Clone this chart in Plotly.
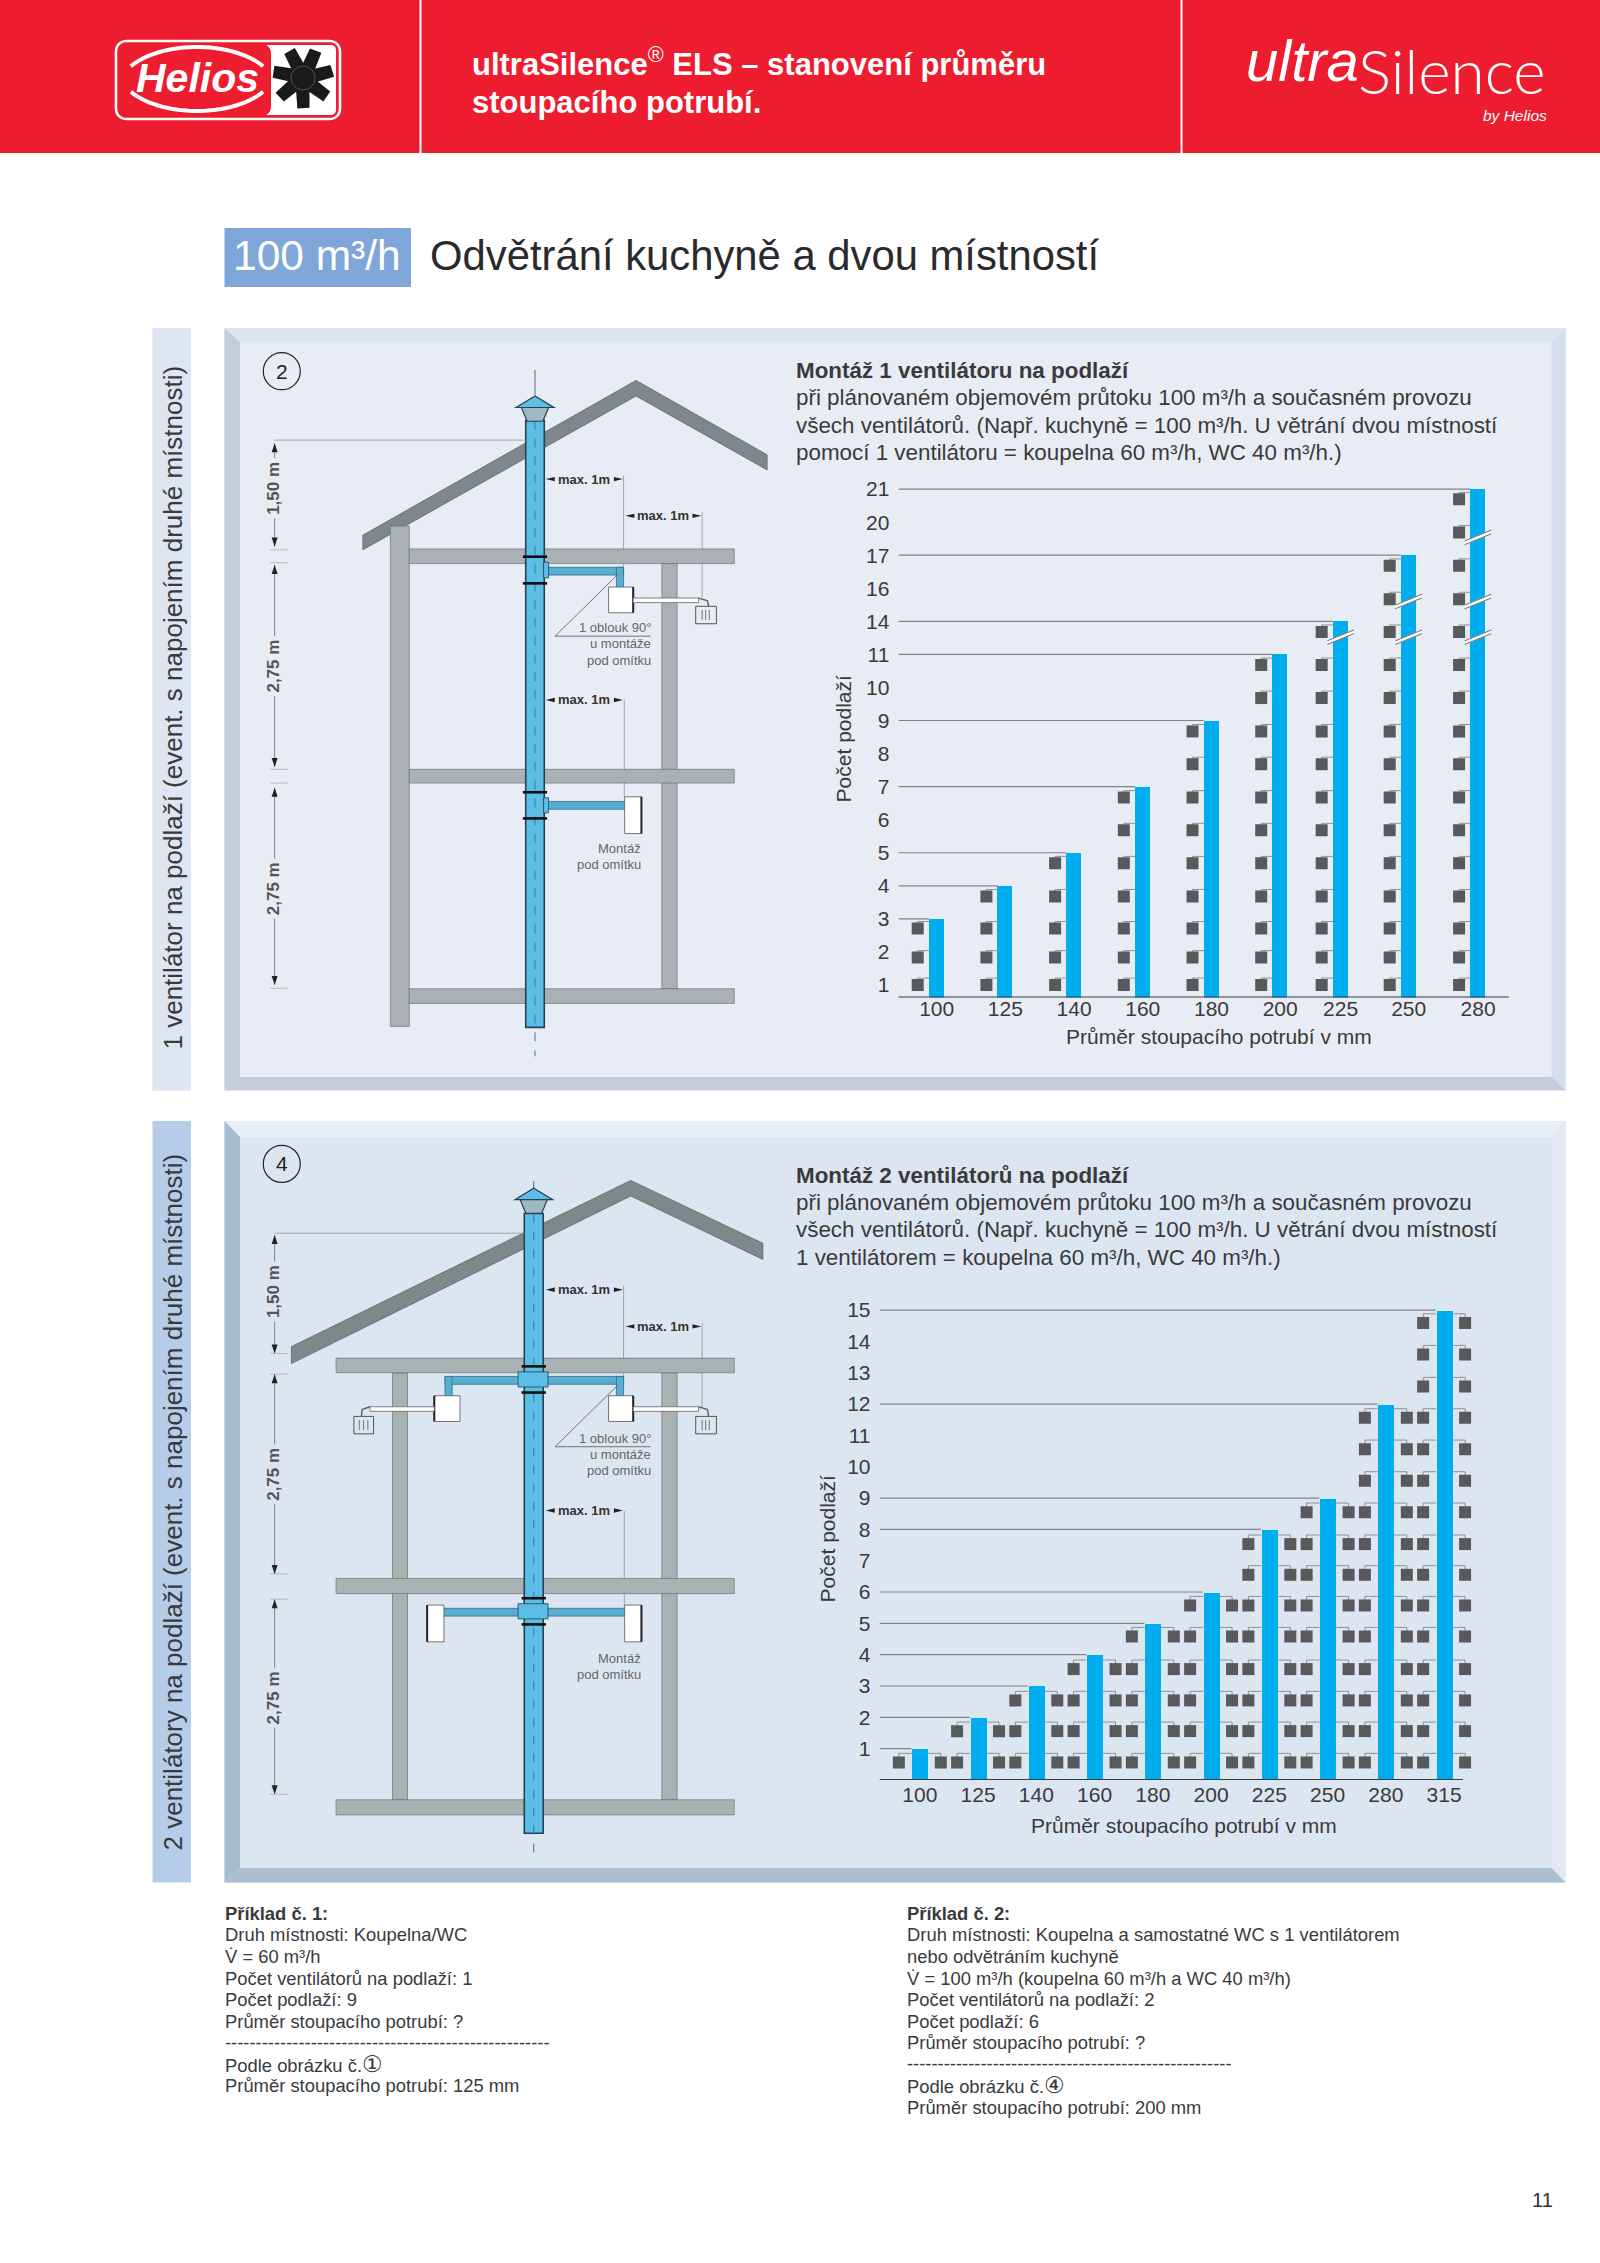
import numpy as np
import plotly.graph_objects as go

W, H = 1600, 2263

# ---------- chart data ----------
diam1 = ["100", "125", "140", "160", "180", "200", "225", "250", "280"]
diam1_pos = [0, 1, 2, 3, 4, 5, 5.88, 6.87, 7.88]
ylabels1 = ["1", "2", "3", "4", "5", "6", "7", "8", "9", "10", "11", "14", "16", "17", "20", "21"]
floors1 = [3, 4, 5, 7, 9, 11, 14, 17, 21]
rows1 = [1.0, 1.83, 2.71, 3.68, 4.68, 5.68, 6.67, 7.68, 8.67, 9.68, 10.68, 11.68, 12.67, 13.68, 14.69, 15.69]
breaks1 = {"225": [11.52], "250": [11.52, 12.6], "280": [11.52, 12.6, 14.54]}

diam2 = ["100", "125", "140", "160", "180", "200", "225", "250", "280", "315"]
ylabels2 = ["1", "2", "3", "4", "5", "6", "7", "8", "9", "10", "11", "12", "13", "14", "15"]
floors2 = [1, 2, 3, 4, 5, 6, 8, 9, 12, 15]
rows2 = [0.56, 1.56, 2.54, 3.54, 4.58, 5.57, 6.55, 7.53, 8.55, 9.55, 10.56, 11.56, 12.56, 13.58, 14.59]

XTITLE = "Průměr stoupacího potrubí v mm"
YTITLE = "Počet podlaží"

FONT = "Liberation Sans"
BLUE = "#00aeef"
SQ = "#58595b"
LEAD = "#808285"
TXT = "#3a3a3c"

shapes, annots = [], []


def px(x):
    return x / W


def py(y):
    return 1 - y / H


def rect(x0, y0, x1, y1, fill, line=None, lw=1, dash=None):
    shapes.append(dict(type="rect", xref="paper", yref="paper", layer="below",
                       x0=px(x0), x1=px(x1), y0=py(y0), y1=py(y1), fillcolor=fill,
                       line=dict(color=line or "rgba(0,0,0,0)", width=lw if line else 0, dash=dash)))


def poly(pts, fill, line=None, lw=1, close=True):
    d = "M " + " L ".join(f"{px(a):.5f} {py(b):.5f}" for a, b in pts) + (" Z" if close else "")
    shapes.append(dict(type="path", xref="paper", yref="paper", layer="below", path=d,
                       fillcolor=fill if close else "rgba(0,0,0,0)",
                       line=dict(color=line or "rgba(0,0,0,0)", width=lw if line else 0)))


def rrect(x0, y0, x1, y1, r, fill, line=None, lw=1):
    pts = []
    for cx, cy, a0 in ((x1 - r, y0 + r, -90), (x1 - r, y1 - r, 0), (x0 + r, y1 - r, 90), (x0 + r, y0 + r, 180)):
        for a in np.radians(np.linspace(a0, a0 + 90, 7)):
            pts.append((cx + r * np.cos(a), cy + r * np.sin(a)))
    poly(pts, fill, line, lw)


def seg(x0, y0, x1, y1, color, lw=1, dash=None):
    shapes.append(dict(type="line", xref="paper", yref="paper", layer="below",
                       x0=px(x0), x1=px(x1), y0=py(y0), y1=py(y1),
                       line=dict(color=color, width=lw, dash=dash)))


def ell(cx, cy, rx, ry, fill, line=None, lw=1):
    shapes.append(dict(type="circle", xref="paper", yref="paper", layer="below",
                       x0=px(cx - rx), x1=px(cx + rx), y0=py(cy - ry), y1=py(cy + ry),
                       fillcolor=fill, line=dict(color=line or "rgba(0,0,0,0)", width=lw if line else 0)))


def text(x, y, s, size, color=TXT, anchor="left", rot=0, family=FONT):
    if rot == 0:
        x = x - 2 if anchor == "left" else (x + 2 if anchor == "right" else x)
    annots.append(dict(x=px(x), y=py(y), xref="paper", yref="paper", text=s, showarrow=False,
                       xanchor=anchor, yanchor="middle", textangle=rot,
                       font=dict(size=size, color=color, family=family)))


# ---------- header ----------
RED = "#ed1c2e"
rect(-5, -10, W + 5, 153, RED)
seg(420.5, -10, 420.5, 153, "white", 2)
seg(1181.5, -10, 1181.5, 153, "white", 2)

# Helios logo
rrect(116, 41, 340, 119, 10, RED, "white", 2.5)
rrect(260, 45, 336, 115, 5, "white")
rrect(120, 44, 271, 116, 9, RED)
t = np.radians(np.linspace(32, 148, 30))
poly([(197 + 78 * np.cos(a), 88 - 41 * np.sin(a)) for a in t], None, "white", 4, close=False)
t = np.radians(np.linspace(212, 328, 30))
poly([(197 + 78 * np.cos(a), 70 - 41 * np.sin(a)) for a in t], None, "white", 4, close=False)
text(197, 78, "<b><i>Helios</i></b>", 41, "white", "center")
for k in range(7):
    a = np.radians(-8 + k * 360 / 7)
    c, s_ = np.cos(a), np.sin(a)
    blade = [(6, -7), (29, -9), (31, 3), (6, 7)]
    poly([(303 + u * c - v * s_, 78 + u * s_ + v * c) for u, v in blade], "#1a1a1a")
ell(303, 78, 12, 12, "#1a1a1a", "#777", 0.6)

# header text
text(472, 62, "<b>ultraSilence</b><sup>®</sup><b> ELS – stanovení průměru</b>", 31, "white")
text(472, 102, "<b>stoupacího potrubí.</b>", 31, "white")
text(1246, 60, "<i>ultra</i>", 58, "white")
text(1358, 70, "Silence", 62, "white", family="Lato Light, Lato")
text(1547, 115, "<i>by Helios</i>", 15.5, "white", "right")

# title
rect(224.5, 228, 411, 287, "#7fa6d9")
text(233, 255, "100 m³/h", 42.5, "white", family="Liberation Sans")
text(430, 255, "Odvětrání kuchyně a dvou místností", 41.8, "#2a2a2c")


# ---------- panels ----------
def panel(y0, y1, yt, yb, face, top, left, right, bottom, tab, tab_txt, ty):
    rect(152.5, y0, 191, y1, tab)
    text(172.5, ty, tab_txt, 26, "#3a3a3c", "center", -90)
    xl, xr, xil, xir = 224.5, 1565.5, 240, 1551.5
    rect(xl, y0, xr, y1, face)
    poly([(xl, y0), (xr, y0), (xir, yt), (xil, yt)], top)
    poly([(xl, y0), (xil, yt), (xil, yb), (xl, y1)], left)
    poly([(xr, y0), (xir, yt), (xir, yb), (xr, y1)], right)
    poly([(xl, y1), (xil, yb), (xir, yb), (xr, y1)], bottom)


panel(328, 1090.5, 342, 1077, "#e8edf5", "#dde6ee", "#c3cedb", "#d5deea", "#c5ccd9", "#dde6f1",
      "1 ventilátor na podlaží (event. s napojením druhé místnosti)", 708)
panel(1121, 1882.5, 1137, 1868, "#dce6f1", "#e6eef7", "#a6bcd0", "#e3e9f4", "#aebfd2", "#b6cde9",
      "2 ventilátory na podlaží (event. s napojením druhé místnosti)", 1502)


# ---------- house diagrams ----------
def house(oy, two):
    z = lambda x, y: (220 + x / 2.8, oy + y / 2.178)
    d = 23 if two else 0
    EDGE = "#5f6668"
    WALL = "#a9b1b3"

    def zr(x0, y0, x1, y1, fill, line=None, lw=1):
        a, b = z(x0, y0), z(x1, y1)
        rect(a[0], a[1], b[0], b[1], fill, line, lw)

    def zl(x0, y0, x1, y1, color, lw=1, dash=None):
        a, b = z(x0, y0), z(x1, y1)
        seg(a[0], a[1], b[0], b[1], color, lw, dash)

    # thin leader lines
    GR = "#8d9499"
    zl(1130, 295 + d, 1130, 495 + d, GR, .8)
    zl(1350, 375 + d, 1350, 560 + d, GR, .8)
    zl(1132, 785 + d, 1132, 995 + d, GR, .8)

    # roof + structure
    if two:
        poly([z(*p) for p in [(200, 450), (1150, 88), (1520, 225), (1520, 260), (1150, 122), (200, 487)]], "#7e888b", EDGE, .8)
        beams = [(475, 507), (955, 988), (1437, 1470)]
        bx0 = 325
        for wx0, wx1 in [(483, 525), (1237, 1280)]:
            zr(wx0, 507, wx1, 1437, WALL, EDGE, .6)
    else:
        poly([z(*p) for p in [(400, 425), (1165, 88), (1532, 250), (1532, 283), (1165, 122), (400, 457)]], "#7e888b", EDGE, .8)
        beams = [(455, 487), (935, 965), (1413, 1445)]
        bx0 = 530
        zr(477, 405, 530, 1495, WALL, EDGE, .6)
        zr(1237, 487, 1280, 1413, WALL, EDGE, .6)
    for b0, b1 in beams:
        zr(bx0, b0, 1440, b1, WALL, EDGE, .6)

    # ducts
    DUCT = "#58aed0"
    pipe_x0, pipe_x1 = (852, 905) if two else (856, 908)
    ptop = 160 if two else 175
    pbot = 1510 if two else 1497
    yu = 515 if two else 495
    yl = 1020 if two else 1005
    zr(905, yu, 1130, yu + 17, DUCT, "#2f6f8d", .8)
    zr(1110, yu, 1130, yu + 45, DUCT, "#2f6f8d", .8)
    zr(905, yl, 1135, yl + 17, DUCT, "#2f6f8d", .8)
    if two:
        zr(630, yu, 852, yu + 17, DUCT, "#2f6f8d", .8)
        zr(630, yu, 650, yu + 45, DUCT, "#2f6f8d", .8)
        zr(625, yl, 852, yl + 17, DUCT, "#2f6f8d", .8)

    # fans and valves
    def fanbox(x0, x1, y0, y1, side):
        zr(x0, y0, x1, y1, "white", "#555", .8)
        a, b = z(x1 if side > 0 else x0, y0), z(x1 if side > 0 else x0, y1)
        seg(a[0], a[1], b[0], b[1], "#222", 2)

    by = 557 if two else 538
    fanbox(1088, 1157, by, by + 56, 1)
    ly0 = 1013 if two else 995
    fanbox(1133, 1180, ly0, ly0 + 80, 1)
    gy = 602 if two else 580
    zr(1157, by + 24, 1340, by + 34, "white", "#666", .8)
    poly([z(1340, by + 24), z(1365, by + 30), z(1368, gy)], None, "#666", 1.5, close=False)
    zr(1332, gy, 1390, gy + 38, "rgba(0,0,0,0)", "#555", 1)
    for vx in (1350, 1360, 1370):
        zl(vx, gy + 8, vx, gy + 30, "#777", 1)
    if two:
        fanbox(600, 672, by, by + 56, -1)
        fanbox(580, 627, ly0, ly0 + 80, -1)
        zr(420, by + 24, 600, by + 34, "white", "#666", .8)
        poly([z(420, by + 24), z(398, by + 30), z(396, gy)], None, "#666", 1.5, close=False)
        zr(375, gy, 430, gy + 38, "rgba(0,0,0,0)", "#555", 1)
        for vx in (390, 402, 414):
            zl(vx, gy + 8, vx, gy + 30, "#777", 1)

    # riser
    zr(pipe_x0, ptop, pipe_x1, pbot, "#5cbde6", "#24424f", 1.6)
    cx = (pipe_x0 + pipe_x1) / 2
    zl(cx, 65 if not two else 90, cx, 120, "#444", .8)
    zl(cx, ptop, cx, 1560, "#2f7fa5", 1, "dash")
    capy = 122 if not two else 105
    poly([z(cx - 53, capy + 25), z(cx, capy), z(cx + 53, capy + 25)], "#5cbde6", "#24424f", 1.2)
    poly([z(cx - 38, capy + 25), z(cx - 22, capy + 55), z(cx + 22, capy + 55), z(cx + 38, capy + 25)], "#9fb7c0", "#24424f", 1.2)
    colls = (493, 550, 998, 1055) if two else (472, 530, 985, 1042)
    for c in colls:
        zl(cx - 34, c, cx + 34, c, "#111", 2.6)
    for c0, c1 in ((colls[0], colls[1]), (colls[2], colls[3])):
        if two:
            zr(cx - 44, c0 + 12, cx + 40, c1 - 12, "#5cbde6", "#24424f", .8)
        else:
            zr(cx + 24, c0 + 12, cx + 38, c1 - 12, "#5cbde6", "#24424f", .8)

    # max. 1m labels
    def maxlab(x0, x1, y):
        a, b = z(x0, y), z(x1, y)
        text((a[0] + b[0]) / 2, a[1], "<b>max. 1m</b>", 13, "#333", "center")
        for xx, sgn in ((a[0], 1), (b[0], -1)):
            poly([(xx, a[1]), (xx + sgn * 9, a[1] - 2.2), (xx + sgn * 9, a[1] + 2.2)], "#222")

    maxlab(912, 1128, 303 + d)
    maxlab(1135, 1348, 383 + d)
    maxlab(912, 1128, 783 + d + 1)

    # notes
    for s, yy in (("1 oblouk 90°", 627), ("u montáže", 662), ("pod omítku", 697)):
        a = z(1206, yy + d)
        text(a[0], a[1], s, 13, "#666", "right")
    zl(938, 645 + d, 1206, 645 + d, "#555", .8)
    zl(938, 645 + d, 1115, 510 + d, "#555", .8)
    for s, yy in (("Montáž", 1108), ("pod omítku", 1143)):
        a = z(1179, yy + d - 1 if two else yy)
        text(a[0], a[1], s, 13, "#666", "right")

    # dimension line
    dm = [(207, 465), (510, 945), (1000, 1425)] if two else [(225, 450), (490, 930), (975, 1405)]
    labs = [("1,50 m", 330), ("2,75 m", 728), ("2,75 m", 1215)] if two else [("1,50 m", 323), ("2,75 m", 710), ("2,75 m", 1195)]
    for (y0, y1), (lab, ly) in zip(dm, labs):
        zl(153, y0, 153, y1, "#777", .9)
        a, b = z(153, y0), z(153, y1)
        poly([(a[0], a[1]), (a[0] - 3, a[1] + 9), (a[0] + 3, a[1] + 9)], "#222")
        poly([(b[0], b[1]), (b[0] - 3, b[1] - 9), (b[0] + 3, b[1] - 9)], "#222")
        a = z(150, ly)
        rect(a[0] - 9, a[1] - 30, a[0] + 9, a[1] + 30, "#e8edf5" if not two else "#dce6f1")
        text(a[0], a[1], "<b>" + lab + "</b>", 17, "#555", "center", -90)
    ly = 203 if two else 218
    zl(153, ly, 850, ly, "#8d9499", .8)
    for yy in ([465, 510, 945, 1000, 1425] if two else [457, 485, 935, 965, 1412]):
        zl(140, yy, 190, yy, "#a9b1b3", .8)

    # number circle
    a = z(173, 52 if two else 68)
    ell(a[0], a[1], 18.5, 18.5, "rgba(0,0,0,0)", "#222", 1.2)
    text(a[0], a[1], "4" if two else "2", 21, "#222", "center")


house(340, False)
house(1140, True)

# ---------- panel headings ----------
HEAD = 22.4
text(796, 370, "<b>Montáž 1 ventilátoru na podlaží</b>", HEAD)
text(796, 397.5, "při plánovaném objemovém průtoku 100 m³/h a současném provozu", HEAD)
text(796, 425, "všech ventilátorů. (Např. kuchyně = 100 m³/h. U větrání dvou místností", HEAD)
text(796, 452.5, "pomocí 1 ventilátoru = koupelna 60 m³/h, WC 40 m³/h.)", HEAD)
text(796, 1175, "<b>Montáž 2 ventilátorů na podlaží</b>", HEAD)
text(796, 1202, "při plánovaném objemovém průtoku 100 m³/h a současném provozu", HEAD)
text(796, 1229.5, "všech ventilátorů. (Např. kuchyně = 100 m³/h. U větrání dvou místností", HEAD)
text(796, 1257, "1 ventilátorem = koupelna 60 m³/h, WC 40 m³/h.)", HEAD)

# ---------- examples ----------
EX = 18.4
circ = '<span style="font-size:23px">%s</span>'
ex1 = ["<b>Příklad č. 1:</b>", "Druh místnosti: Koupelna/WC", "V̇ = 60 m³/h",
       "Počet ventilátorů na podlaží: 1", "Počet podlaží: 9", "Průměr stoupacího potrubí: ?",
       "-" * 53, "Podle obrázku č." + circ % "①", "Průměr stoupacího potrubí: 125 mm"]
ex2 = ["<b>Příklad č. 2:</b>", "Druh místnosti: Koupelna a samostatné WC s 1 ventilátorem",
       "nebo odvětráním kuchyně", "V̇ = 100 m³/h (koupelna 60 m³/h a WC 40 m³/h)",
       "Počet ventilátorů na podlaží: 2", "Počet podlaží: 6", "Průměr stoupacího potrubí: ?",
       "-" * 53, "Podle obrázku č." + circ % "④", "Průměr stoupacího potrubí: 200 mm"]
ys = [1913, 1934.5, 1956, 1978, 1999, 2021, 2042, 2063.5, 2085, 2107]
for s, y in zip(ex1, ys):
    text(225, y, s, EX)
for s, y in zip(ex2, ys):
    text(906.5, y, s, EX)
text(1542, 2200, "11", 20, "#333", "center")

# x-axis titles
text(1219, 1036.5, XTITLE, 21, TXT, "center")
text(1184, 1825, XTITLE, 21, TXT, "center")

fig = go.Figure()


# ---------- charts ----------
def add_chart(xa, ya, pos, levels, rows, ylabels, half, sq_dx, conn_dy, both, xr, yr, xdom, ydom, sq_size,
              xlabels, ystand, ytsh, xtsh, xline_end):
    ax = "x" if xa == 1 else f"x{xa}"
    ay = "y" if ya == 1 else f"y{ya}"
    x_left = xr[0]
    # leader lines
    lx, ly = [], []
    for p, lv in zip(pos, levels):
        lx += [x_left, p - half * 1.05, None]
        ly += [lv, lv, None]
    fig.add_trace(go.Scatter(x=lx, y=ly, mode="lines", line=dict(color=LEAD, width=1.2), xaxis=ax, yaxis=ay,
                             hoverinfo="skip", showlegend=False))
    # connectors and squares
    cx, cy, sx, sy = [], [], [], []
    for p, lv in zip(pos, levels):
        for r in rows[:int(round(lv))]:
            for sgn in ((-1, 1) if both else (-1,)):
                xs = p + sgn * sq_dx
                cx += [xs, xs, p + sgn * half, None]
                cy += [r + conn_dy * .5, r + conn_dy, r + conn_dy, None]
                sx.append(xs)
                sy.append(r)
    fig.add_trace(go.Scatter(x=cx, y=cy, mode="lines", line=dict(color="#8f9295", width=1), xaxis=ax, yaxis=ay,
                             hoverinfo="skip", showlegend=False))
    fig.add_trace(go.Scatter(x=sx, y=sy, mode="markers", xaxis=ax, yaxis=ay, hoverinfo="skip", showlegend=False,
                             marker=dict(symbol="square", size=sq_size, color=SQ, line=dict(width=0))))
    fig.add_trace(go.Bar(x=pos, y=levels, width=half * 2, marker=dict(color=BLUE, line=dict(width=0)),
                         xaxis=ax, yaxis=ay, showlegend=False, hoverinfo="skip"))
    # baseline of the axis stops before the end of the drawing area
    fig.add_trace(go.Scatter(x=[xr[0], xline_end], y=[yr[0], yr[0]], mode="lines", xaxis=ax, yaxis=ay,
                             line=dict(color="#3a3a3c", width=1.8), hoverinfo="skip", showlegend=False,
                             cliponaxis=False))
    fig.layout[f"xaxis{'' if xa == 1 else xa}"] = dict(
        domain=xdom, range=xr, anchor=ay, tickmode="array", tickvals=pos, ticktext=xlabels,
        showgrid=False, zeroline=False, showline=False,
        ticks="", ticklabelstandoff=xtsh, tickfont=dict(size=21, color=TXT, family=FONT))
    fig.layout[f"yaxis{'' if ya == 1 else ya}"] = dict(
        domain=ydom, range=yr, anchor=ax, tickmode="array", tickvals=list(range(1, len(ylabels) + 1)), ticktext=ylabels,
        showgrid=False, zeroline=False, showline=False,
        ticks="", ticklabelstandoff=ytsh, tickfont=dict(size=21, color=TXT, family=FONT),
        title=dict(text=YTITLE, font=dict(size=21, color=TXT, family=FONT), standoff=ystand))


def dom_y(top, bot):
    return [py(bot), py(top)]


# chart 1
pos1 = diam1_pos
lev1 = [ylabels1.index(str(f)) + 1 for f in floors1]
add_chart(1, 1, pos1, lev1, rows1, ylabels1, 0.109, 0.276, 0.21, False,
          [-0.557, 8.329], [0.622, 16.275], [898.4 / W, 1508.9 / W], dom_y(480, 997.5), 12,
          diam1, 8, 8, -4, 8.329)

# axis breaks on chart 1
bxw, bxg = [], []
for lab, lst in breaks1.items():
    p = pos1[diam1.index(lab)]
    for b in lst:
        fig.add_trace(go.Scatter(x=[p - .195, p + .195], y=[b - .165, b + .165], mode="lines", xaxis="x", yaxis="y",
                                 line=dict(color="white", width=4), hoverinfo="skip", showlegend=False, cliponaxis=False))
        for off in (-.055, .055):
            bxg += [p - .195, p + .195, None]
            bxw += [b - .165 + off, b + .165 + off, None]
fig.add_trace(go.Scatter(x=bxg, y=bxw, mode="lines", xaxis="x", yaxis="y", line=dict(color="#6d6e71", width=1),
                         hoverinfo="skip", showlegend=False, cliponaxis=False))

# chart 2
pos2 = list(range(len(diam2)))
add_chart(2, 2, pos2, floors2, rows2, ylabels2, 0.137, 0.36, 0.29, True,
          [-0.692, 9.616], [0, 15.4], [879.5 / W, 1480 / W], dom_y(1780 - 15.4 * 31.33, 1780), 12,
          diam2, 5, 8, 0, 9.324)

fig.update_layout(width=W, height=H, margin=dict(l=0, r=0, t=0, b=0, pad=0, autoexpand=False), paper_bgcolor="white",
                  plot_bgcolor="rgba(0,0,0,0)", shapes=shapes, annotations=annots, showlegend=False,
                  bargap=0, font=dict(family=FONT))
fig.write_html("out.html",
               post_script="document.body.style.margin='0';document.documentElement.style.overflow='hidden';"
                           "var g=document.getElementById('{plot_id}');g.style.position='fixed';g.style.top='0';g.style.left='0';",
               config=dict(displayModeBar=False))
